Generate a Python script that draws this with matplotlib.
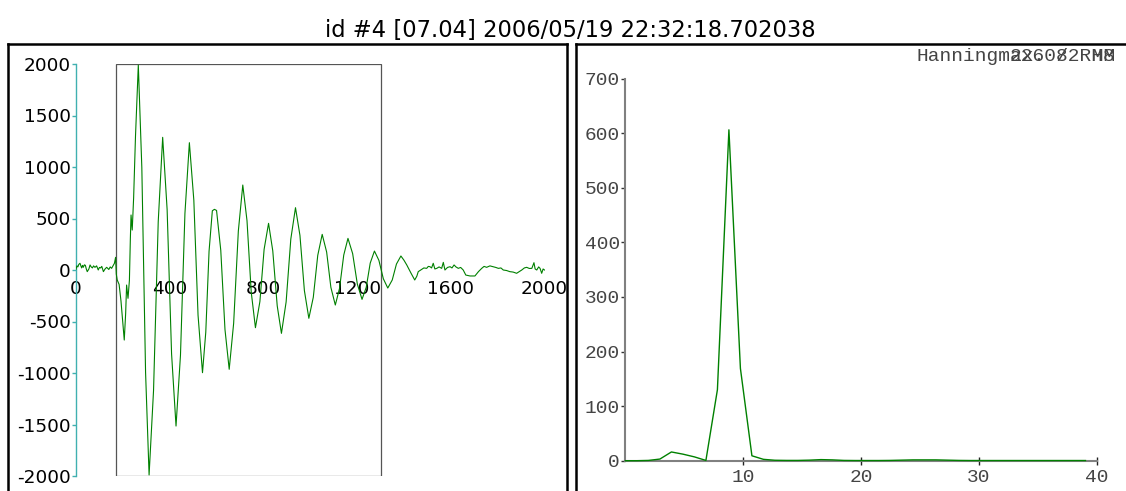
import matplotlib
matplotlib.use('Agg')
import matplotlib.pyplot as plt
from matplotlib.lines import Line2D
from matplotlib.patches import Rectangle
import numpy as np

plt.rcParams['axes.unicode_minus'] = False

W, H = 1126, 491

title = "id #4 [07.04] 2006/05/19 22:32:18.702038"

# ---- waveform (left panel): vertices ----
wave_x = [0, 4, 8, 12, 17, 24, 28, 31, 36, 40, 44, 48, 55, 60, 65, 70, 75, 81, 88, 95, 100, 105,
          110, 117, 124, 131, 136, 140, 146, 152, 158, 164, 169,
          172, 176, 184, 192, 206, 212, 216, 222, 228, 232, 235, 240, 246, 254, 266,
          281, 297, 312, 331, 351, 370, 389, 408, 427, 446, 465, 484, 503, 521, 540,
          554, 568, 582, 591, 600, 618, 636, 654, 673, 693, 712, 730, 748, 766, 785, 803, 822,
          840, 859, 877, 897, 917, 937, 956, 975, 994, 1013, 1032, 1051, 1070, 1088, 1107,
          1125, 1143, 1161, 1181, 1201, 1221, 1239, 1256, 1274, 1293, 1312, 1331, 1350, 1368,
          1387, 1400, 1412, 1430, 1446, 1455, 1461, 1475, 1485, 1497, 1504, 1511, 1518, 1525,
          1532, 1540, 1550, 1561, 1568, 1575, 1586, 1597, 1605, 1614, 1622, 1632, 1642, 1653,
          1664, 1682, 1703, 1718, 1732, 1742, 1753, 1767, 1781, 1792, 1803, 1814, 1824, 1838,
          1852, 1866, 1881, 1903, 1914, 1924, 1935, 1946, 1955, 1960, 1967, 1975, 1981, 1988,
          1994, 2000]
wave_y = [7, 40, 30, 55, 65, 20, 45, 26, 50, 45, 10, -16, 10, 49, 30, 20, 40, 26, 40, 0, 25, 20,
          35, -16, 10, 26, 15, 5, 30, 16, 40, 65, 123,
          -40, -97, -140, -300, -680, -420, -146, -275, -100, 300, 534, 388, 700, 1300, 1990,
          995, -995, -1990, -1170, 468, 1288, 587, -814, -1515, -827, 548, 1236, 678, -439, -997,
          -604, 182, 575, 589, 578, 192, -578, -964, -517, 378, 825, 479, -214, -560, -307, 200, 453,
          186, -348, -615, -310, 300, 605, 336, -200, -469, -265, 142, 346, 174, -168, -340,
          -178, 145, 307, 159, -137, -285, -168, 67, 184, 94, -85, -175, -97, 58,
          136, 95, 49, -30, -97, -60, -16, 5, 20, 16, 35, 32, 20, 65,
          10, 16, 30, 16, 74, 0, 25, 32, 20, 49, 30, 16, 25, 0,
          -49, -58, -58, -16, 16, 35, 26, 40, 32, 25, 16, 20, 0, -5,
          -16, -20, -32, 0, 20, 26, 15, 16, 71, 10, 0, 30, 16, -32,
          10, 0]
window_start, window_end = 170, 1300
wave_xticks = [0, 400, 800, 1200, 1600, 2000]
wave_yticks = [-2000, -1500, -1000, -500, 0, 500, 1000, 1500, 2000]

# ---- spectrum (right panel) ----
spec_step = 1000 / 1024
spec_vals = [0, 0, 0.5, 3, 16, 12, 7, 0.5, 130, 606, 169, 9, 2.5, 0.8, 0.5, 0.5, 1, 2, 1.5, 0.5,
             0.3, 0.3, 0.3, 0.5, 1, 1.5, 1.5, 1.5, 1, 0.5, 0.3, 0.3, 0.3, 0.3, 0.3, 0.3, 0.3, 0.3,
             0.3, 0.3, 0.3]
spec_xticks = [10, 20, 30, 40]
spec_yticks = [0, 100, 200, 300, 400, 500, 600, 700]

fig = plt.figure(figsize=(W / 100, H / 100), dpi=100)


def fx(px):
    return px / W


def fy(py):
    return 1 - py / H


# ---------- left panel ----------
ax1 = fig.add_axes([fx(76), fy(476), (544.5 - 76) / W, (476 - 64) / H])
ax1.patch.set_visible(False)
ax1.plot(wave_x, wave_y, color='#008000', lw=0.8, zorder=3)
ax1.set_xlim(0, 2000)
ax1.set_ylim(-2000, 2000)
for s in ['top', 'right']:
    ax1.spines[s].set_visible(False)
ax1.spines['left'].set_color('#40b0b0')
ax1.spines['left'].set_linewidth(1.0)
ax1.spines['bottom'].set_position(('data', 0))
ax1.spines['bottom'].set_visible(False)
ax1.set_xticks(wave_xticks)
ax1.set_yticks(wave_yticks)
ax1.tick_params(axis='y', direction='out', length=3, width=1, color='#40b0b0', pad=0.8,
                labelsize=13.3)
ax1.tick_params(axis='x', length=0, pad=7.5, labelsize=13.3)
ax1.add_patch(Rectangle((window_start, -2000), window_end - window_start, 4000, fill=False,
                        ec='#555555', lw=0.9, zorder=2))

# ---------- right panel ----------
ax2 = fig.add_axes([fx(625.4), fy(460.7), (1096.5 - 625.4) / W, (460.7 - 78.5) / H])
ax2.patch.set_visible(False)
ax2.plot(np.arange(len(spec_vals)) * spec_step, spec_vals, color='#008000', lw=1.0,
         clip_on=False, zorder=3)
ax2.set_xlim(0, 40)
ax2.set_ylim(0, 700)
for s in ['top', 'right']:
    ax2.spines[s].set_visible(False)
for s in ['left', 'bottom']:
    ax2.spines[s].set_color('#808080')
    ax2.spines[s].set_linewidth(1.5)
ax2.set_xticks(spec_xticks)
ax2.set_yticks(spec_yticks)
mono = ['Liberation Mono', 'DejaVu Sans Mono']
ax2.tick_params(axis='y', direction='out', length=3, width=1, color='#333333', pad=1,
                labelsize=14, labelcolor='#444444')
ax2.tick_params(axis='x', direction='inout', length=6, width=1, color='#222222', pad=3,
                labelsize=14, labelcolor='#444444')
for lab in ax2.get_xticklabels() + ax2.get_yticklabels():
    lab.set_family(mono)

# ---------- frames ----------
lw_box = 1.8
fig.add_artist(Line2D([fx(8), fx(8)], [fy(43.5), fy(495)], color='black', lw=lw_box, zorder=10))
fig.add_artist(Line2D([fx(8), fx(566.5)], [fy(43.5), fy(43.5)], color='black', lw=lw_box, zorder=10))
fig.add_artist(Line2D([fx(566.5), fx(566.5)], [fy(43.5), fy(495)], color='black', lw=lw_box, zorder=10))
fig.add_artist(Line2D([fx(575.5), fx(575.5)], [fy(43.5), fy(495)], color='black', lw=lw_box, zorder=10))
fig.add_artist(Line2D([fx(575.5), fx(1130)], [fy(43.5), fy(43.5)], color='black', lw=lw_box, zorder=10))
# white mask so the "2000" label looks cut by the frame
fig.add_artist(Rectangle((fx(567.5), 0), fx(574.5) - fx(567.5), fy(44.5), transform=fig.transFigure,
                         color='white', zorder=9))

# ---------- texts ----------
fig.text(fx(570.4), fy(37), title, ha='center', va='baseline', fontsize=16.3,
         family='DejaVu Sans', color='black')
cell = 0.6 * 14 * 100 / 72
fig.text(fx(916), fy(61), "Hanningmax", ha='left', va='baseline', fontsize=14, family=mono,
         color='#444444')
fig.text(fx(916 + 8 * cell), fy(61), "226082RH8", ha='left', va='baseline', fontsize=14,
         family=mono, color='#444444')
fig.text(fx(916 + 10 * cell), fy(61), ". /  MM", ha='left', va='baseline', fontsize=14,
         family=mono, color='#444444')

fig.savefig('out.png', dpi=100)
